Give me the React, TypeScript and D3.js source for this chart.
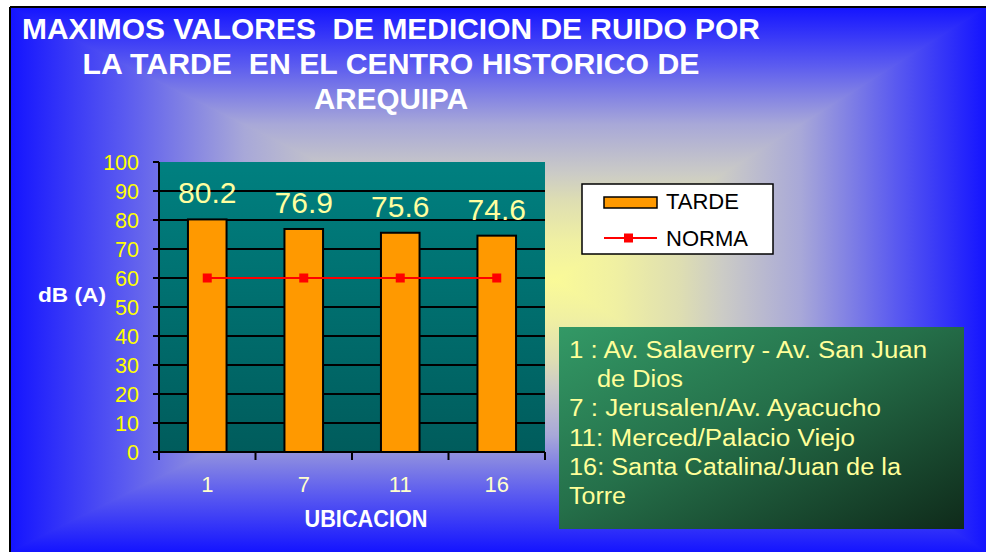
import React from 'react';
import * as d3 from 'd3';

// chart data
const categories = ['1', '7', '11', '16'];
const tardeValues = [80.2, 76.9, 75.6, 74.6];
const normaValues = [60, 60, 60, 60];
const yTicks = [0, 10, 20, 30, 40, 50, 60, 70, 80, 90, 100];
const titleLines = [
  'MAXIMOS VALORES  DE MEDICION DE RUIDO POR',
  'LA TARDE  EN EL CENTRO HISTORICO DE',
  'AREQUIPA',
];
const noteLines = [
  '1 : Av. Salaverry - Av. San Juan',
  'de Dios',
  '7 : Jerusalen/Av. Ayacucho',
  '11: Merced/Palacio Viejo',
  '16: Santa Catalina/Juan de la',
  'Torre',
];

const W = 986;
const H = 552;
const font = 'Liberation Sans, Arial, sans-serif';

// background frame (path gradient, blue edges -> pale yellow centre)
const bg = { x0: 10, y0: 7, x1: 986, y1: 552, cx: 555, cy: 280 };
const bgStops: [number, string][] = [
  [0, '#1414ff'],
  [0.21, '#5a5af0'],
  [0.43, '#a8a8d8'],
  [0.61, '#cbcbc6'],
  [0.71, '#dedeb2'],
  [0.86, '#f0f0a2'],
  [1, '#fafa98'],
];

const plot = { left: 159, right: 545, top: 162, bottom: 452 };

// note text layout
const noteX = [569, 597, 569, 569, 569, 569];
const noteLen = [358, 86, 312, 286, 332, 57];

const App = () => {
  const x = d3
    .scaleBand()
    .domain(categories)
    .range([plot.left, plot.right])
    .padding(0);

  const y = d3.scaleLinear().domain([0, 100]).range([plot.bottom, plot.top]);

  const barW = x.bandwidth() * 0.4;
  const center = (c: string) => (x(c) as number) + x.bandwidth() / 2;

  const normaLine = d3
    .line<number>()
    .x((d, i) => center(categories[i]))
    .y((d) => y(d))(normaValues);

  const boundaries = [...categories.map((c) => x(c) as number), plot.right];

  const quad = (id: string, x1: number, y1: number, x2: number, y2: number) => (
    <linearGradient id={id} gradientUnits="userSpaceOnUse" x1={x1} y1={y1} x2={x2} y2={y2}>
      {bgStops.map(([o, c]) => (
        <stop key={o} offset={o} stopColor={c} />
      ))}
    </linearGradient>
  );

  const tri = [
    { id: 'gL', pts: `${bg.x0},${bg.y0} ${bg.cx},${bg.cy} ${bg.x0},${bg.y1}` },
    { id: 'gR', pts: `${bg.x1},${bg.y0} ${bg.cx},${bg.cy} ${bg.x1},${bg.y1}` },
    { id: 'gT', pts: `${bg.x0},${bg.y0} ${bg.x1},${bg.y0} ${bg.cx},${bg.cy}` },
    { id: 'gB', pts: `${bg.x0},${bg.y1} ${bg.x1},${bg.y1} ${bg.cx},${bg.cy}` },
  ];

  return (
    <svg
      width={W}
      height={H}
      style={{ position: 'absolute', left: 0, top: 0, background: '#fff' }}
    >
      <defs>
        {quad('gL', bg.x0, 0, bg.cx, 0)}
        {quad('gR', bg.x1, 0, bg.cx, 0)}
        {quad('gT', 0, bg.y0, 0, bg.cy)}
        {quad('gB', 0, bg.y1, 0, bg.cy)}
        <clipPath id="bgClip">
          <rect x={bg.x0} y={bg.y0} width={bg.x1 - bg.x0} height={bg.y1 - bg.y0} />
        </clipPath>
        <linearGradient id="plotFill" x1="0" y1="0" x2="0" y2="1">
          <stop offset="0" stopColor="#008080" />
          <stop offset="1" stopColor="#005c5c" />
        </linearGradient>
        <linearGradient id="noteFill" x1="0" y1="0" x2="1" y2="1">
          <stop offset="0" stopColor="#339966" />
          <stop offset="0.45" stopColor="#25704a" />
          <stop offset="1" stopColor="#0f2a1a" />
        </linearGradient>
      </defs>

      {/* background */}
      <g clipPath="url(#bgClip)">
        <rect x={bg.x0} y={bg.y0} width={bg.x1 - bg.x0} height={bg.y1 - bg.y0} fill="#c8c8c8" />
        {tri.map((t) => (
          <polygon
            key={t.id}
            points={t.pts}
            fill={`url(#${t.id})`}
            stroke={`url(#${t.id})`}
            strokeWidth={1.5}
            strokeLinejoin="round"
          />
        ))}
      </g>
      <line x1={bg.x0} y1={bg.y0} x2={bg.x1} y2={bg.y0} stroke="#000" strokeWidth={2} />
      <line x1={bg.x0} y1={bg.y0} x2={bg.x0} y2={bg.y1} stroke="#000" strokeWidth={2} />

      {/* title */}
      {titleLines.map((t, i) => (
        <text
          key={i}
          x={391}
          y={39 + i * 35}
          textAnchor="middle"
          fontFamily={font}
          fontWeight="bold"
          fontSize={29}
          fill="#fff"
          textLength={[738, 617, 154][i]}
          lengthAdjust="spacingAndGlyphs"
          style={{ whiteSpace: 'pre' }}
        >
          {t}
        </text>
      ))}

      {/* plot area */}
      <rect
        x={plot.left}
        y={plot.top}
        width={plot.right - plot.left}
        height={plot.bottom - plot.top}
        fill="url(#plotFill)"
      />
      {yTicks.slice(1, -1).map((t) => (
        <line key={t} x1={plot.left - 6} x2={plot.right} y1={y(t)} y2={y(t)} stroke="#000" strokeWidth={2} />
      ))}
      <line x1={plot.left - 6} x2={plot.left} y1={y(100)} y2={y(100)} stroke="#000" strokeWidth={2} />

      {/* bars */}
      {categories.map((c, i) => (
        <rect
          key={c}
          x={center(c) - barW / 2}
          y={y(tardeValues[i])}
          width={barW}
          height={y(0) - y(tardeValues[i])}
          fill="#ff9900"
          stroke="#000"
          strokeWidth={2}
        />
      ))}

      {/* axes */}
      <line x1={plot.left} x2={plot.left} y1={plot.top} y2={plot.bottom + 8} stroke="#000" strokeWidth={2} />
      <line x1={plot.left - 6} x2={plot.right} y1={y(0)} y2={y(0)} stroke="#000" strokeWidth={2} />
      {boundaries.map((b, i) => (
        <line key={i} x1={b} x2={b} y1={plot.bottom} y2={plot.bottom + 8} stroke="#000" strokeWidth={2} />
      ))}

      {/* norma line */}
      <path d={normaLine || ''} fill="none" stroke="#ff0000" strokeWidth={2} />
      {categories.map((c, i) => (
        <rect key={c} x={center(c) - 4.5} y={y(normaValues[i]) - 4.5} width={9} height={9} fill="#ff0000" />
      ))}

      {/* value labels */}
      {categories.map((c, i) => (
        <text
          key={c}
          x={center(c)}
          y={y(tardeValues[i]) - 16}
          textAnchor="middle"
          fontFamily={font}
          fontSize={30}
          fill="#ffffa0"
        >
          {tardeValues[i].toFixed(1)}
        </text>
      ))}

      {/* y tick labels */}
      {yTicks.map((t) => (
        <text
          key={t}
          x={139}
          y={y(t)}
          dy="0.36em"
          textAnchor="end"
          fontFamily={font}
          fontSize={21.5}
          fill="#ffff00"
        >
          {t}
        </text>
      ))}
      <text x={38} y={302} fontFamily={font} fontWeight="bold" fontSize={20} fill="#fff" textLength={68} lengthAdjust="spacingAndGlyphs">
        dB (A)
      </text>

      {/* x tick labels */}
      {categories.map((c) => (
        <text key={c} x={center(c)} y={492} textAnchor="middle" fontFamily={font} fontSize={22} fill="#ffffcc">
          {c}
        </text>
      ))}
      <text
        x={366}
        y={527}
        textAnchor="middle"
        fontFamily={font}
        fontWeight="bold"
        fontSize={23}
        fill="#fff"
        textLength={123}
        lengthAdjust="spacingAndGlyphs"
      >
        UBICACION
      </text>

      {/* legend */}
      <rect x={582} y={184} width={191} height={70} fill="#fff" stroke="#000" strokeWidth={1.5} />
      <rect x={604} y={197} width={53} height={11} fill="#ff9900" stroke="#000" strokeWidth={1.5} />
      <text x={666} y={209} fontFamily={font} fontSize={22} fill="#000">
        TARDE
      </text>
      <line x1={604} x2={657} y1={238} y2={238} stroke="#ff0000" strokeWidth={2} />
      <rect x={624} y={233.5} width={9} height={9} fill="#ff0000" />
      <text x={666} y={246} fontFamily={font} fontSize={22} fill="#000">
        NORMA
      </text>

      {/* notes box */}
      <rect x={559} y={327} width={405} height={202} fill="url(#noteFill)" />
      {noteLines.map((t, i) => (
        <text
          key={i}
          x={noteX[i]}
          y={358 + i * 29.2}
          fontFamily={font}
          fontSize={23.5}
          fill="#ffff99"
          textLength={noteLen[i]}
          lengthAdjust="spacingAndGlyphs"
        >
          {t}
        </text>
      ))}
    </svg>
  );
};

export default App;
